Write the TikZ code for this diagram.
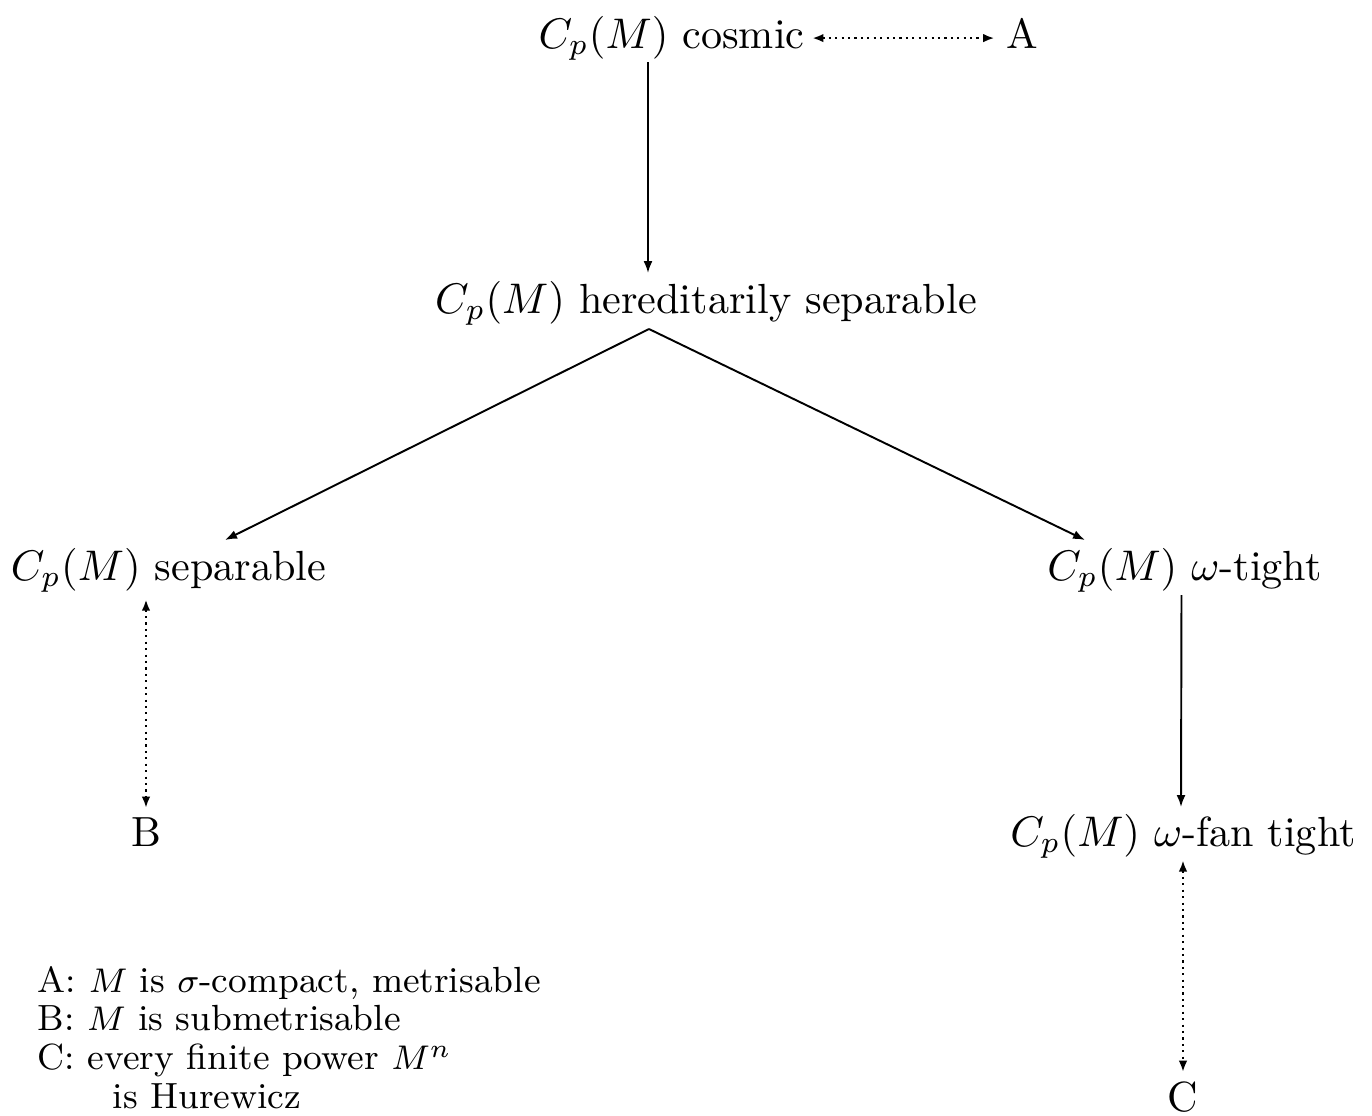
\documentclass[tikz,border=0pt]{standalone}
\usetikzlibrary{arrows.meta,calc}
\begin{document}
\begin{tikzpicture}[x=0.2336pt,y=-0.2336pt,
  lbl/.style={inner sep=0pt,anchor=base,font=\fontsize{9.85pt}{12pt}\selectfont},
  imp/.style={line width=0.45pt,-{Latex[length=2.8pt,width=2.1pt]}},
  eqv/.style={line width=0.5pt,densely dotted,{Latex[length=2.6pt,width=2pt]}-{Latex[length=2.6pt,width=2pt]}}]
\useasboundingbox (0,0) rectangle (1372,1115);
\node[lbl] (cosmic) at (671.5,48) {$C_p(M)$ cosmic};
\node[lbl] (A) at (1022,48) {A};
\node[lbl] (hs) at (706,313) {$C_p(M)$ hereditarily separable};
\node[lbl] (sep) at (168.5,580) {$C_p(M)$ separable};
\node[lbl] (wt) at (1184.5,580) {$C_p(M)$ $\omega$-tight};
\node[lbl] (B) at (146,846) {B};
\node[lbl] (ft) at (1183,846) {$C_p(M)$ $\omega$-fan tight};
\node[lbl] (C) at (1183,1111) {C};
\node[inner sep=0pt,anchor=base west,align=left,font=\fontsize{8.5pt}{9pt}\selectfont] (legend) at (37,1108)
  {A: $M$ is $\sigma$-compact, metrisable\\
   B: $M$ is submetrisable\\
   C: every finite power $M^n$\\
   \hspace*{17.5pt}is Hurewicz};
\draw[imp] ($(cosmic.base)+(-23.5,14)$) -- ($(hs.base)+(-58,-40)$);
\draw[imp] ($(hs.base)+(-57,16)$) -- ($(sep.base)+(56.5,-40)$);
\draw[imp] ($(hs.base)+(-57,16)$) -- ($(wt.base)+(-99.5,-40)$);
\draw[imp] ($(wt.base)+(-3,15)$) -- ($(ft.base)+(-2,-39)$);
\draw[eqv,shorten <=7pt*0.2336,shorten >=11pt*0.2336] (cosmic.east) -- (cosmic.east -| A.west);
\draw[eqv,shorten <=1.5pt,shorten >=2pt] (B.north |- sep.south) -- (B.north);
\draw[eqv,shorten <=0.3pt,shorten >=2pt] (C.north |- ft.south) -- (C.north);
\end{tikzpicture}
\end{document}
